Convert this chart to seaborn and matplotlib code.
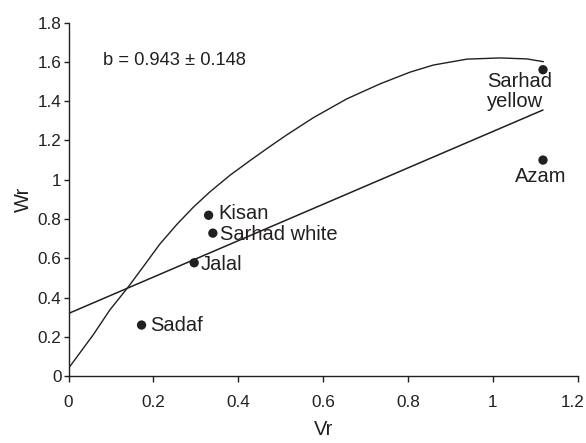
import numpy as np
import pandas as pd
import matplotlib
matplotlib.use("Agg")
import matplotlib.pyplot as plt
import matplotlib.transforms as mtransforms
import seaborn as sns

# genotype points (Vr, Wr)
genotypes = ["Sadaf", "Jalal", "Kisan", "Sarhad white", "Sarhad yellow", "Azam"]
vr = [0.172, 0.296, 0.330, 0.340, 1.118, 1.118]
wr = [0.26, 0.577, 0.819, 0.728, 1.56, 1.10]

# regression line end points
line_vr = [0.0, 1.118]
line_wr = [0.319, 1.355]

# limiting parabola
curve_vr = [0.0, 0.058, 0.097, 0.141, 0.176, 0.215, 0.255, 0.294, 0.333, 0.380, 0.428,
            0.475, 0.514, 0.577, 0.656, 0.734, 0.805, 0.860, 0.939, 1.017, 1.080, 1.119]
curve_wr = [0.04, 0.21, 0.336, 0.455, 0.557, 0.672, 0.772, 0.860, 0.938, 1.022, 1.098,
            1.170, 1.228, 1.316, 1.412, 1.488, 1.548, 1.584, 1.614, 1.620, 1.615, 1.601]

x_ticks = [0, 0.2, 0.4, 0.6, 0.8, 1.0, 1.2]
y_ticks = [0, 0.2, 0.4, 0.6, 0.8, 1.0, 1.2, 1.4, 1.6, 1.8]

annotation = "b = 0.943 \u00b1 0.148"

# label offsets in points (dx, dy, ha, va)
label_pos = {
    "Sadaf": (6.5, 0, "left", "center"),
    "Jalal": (5, -1.5, "left", "center"),
    "Kisan": (7, 1.5, "left", "center"),
    "Sarhad white": (5, -1, "left", "center"),
    "Sarhad yellow": (-40, -1.5, "left", "top"),
    "Azam": (-2, -5, "center", "top"),
}

df_pts = pd.DataFrame({"Vr": vr, "Wr": wr, "name": genotypes})
df_line = pd.DataFrame({"Vr": line_vr, "Wr": line_wr})
df_curve = pd.DataFrame({"Vr": curve_vr, "Wr": curve_wr})

sns.set_style("ticks")
plt.rcParams["font.family"] = ["Liberation Sans", "DejaVu Sans"]
ink = "#231f20"

fig = plt.figure(figsize=(5.86, 4.43), dpi=100)
ax = fig.add_axes([0.117, 0.151, 0.869, 0.798])

sns.lineplot(data=df_curve, x="Vr", y="Wr", ax=ax, color=ink, linewidth=1.0, sort=False, estimator=None)
sns.lineplot(data=df_line, x="Vr", y="Wr", ax=ax, color=ink, linewidth=1.1, estimator=None)
sns.scatterplot(data=df_pts, x="Vr", y="Wr", ax=ax, color=ink, s=45, edgecolor="none", zorder=5)

for name, x, y in zip(genotypes, vr, wr):
    dx, dy, ha, va = label_pos[name]
    txt = "Sarhad\nyellow" if name == "Sarhad yellow" else name
    ax.annotate(txt, (x, y), xytext=(dx, dy), textcoords="offset points",
                ha=ha, va=va, fontsize=14.5, color=ink, linespacing=1.1)

ax.text(0.08, 1.605, annotation, fontsize=13.2, color=ink, va="center", ha="left")

ax.set_xlim(0, 1.2)
ax.set_ylim(0, 1.8)
ax.set_xticks(x_ticks)
ax.set_yticks(y_ticks)
ax.set_xticklabels([f"{t:g}" for t in x_ticks])
ax.set_yticklabels([f"{t:g}" for t in y_ticks])
ax.tick_params(axis="x", length=4.5, width=1, pad=9, labelsize=12.3, colors=ink)
ax.tick_params(axis="y", length=3.6, width=1, pad=1.5, labelsize=12.3, colors=ink)
for side in ["left", "bottom"]:
    ax.spines[side].set_linewidth(1)
    ax.spines[side].set_color(ink)
sns.despine(ax=ax)

# last x label sits a little left of its tick, as in the original
last = ax.get_xticklabels()[-1]
last.set_transform(last.get_transform() + mtransforms.ScaledTranslation(-5 / 100, 0, fig.dpi_scale_trans))

ax.set_xlabel("Vr", fontsize=14.5, color=ink, labelpad=7)
ax.set_ylabel("Wr", fontsize=14.5, color=ink, labelpad=3.5)

fig.savefig("out.png", dpi=100)
